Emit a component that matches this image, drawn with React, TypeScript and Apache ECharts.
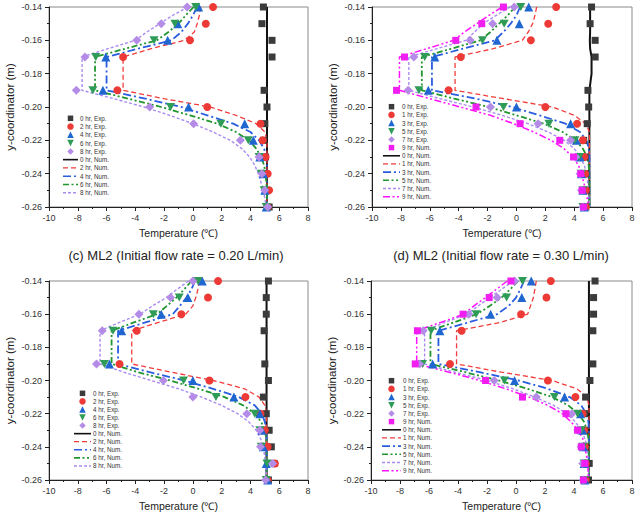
import React, { useEffect, useRef } from "react";
import * as echarts from "echarts";

// Depth levels of the measured points and of the simulated profiles (m)
const EXP_Y = [-0.14, -0.15, -0.16, -0.17, -0.19, -0.2, -0.21, -0.22, -0.23, -0.24, -0.25, -0.26];
const NUM_Y = [
  -0.14, -0.145, -0.15, -0.155, -0.16, -0.165, -0.17, -0.18, -0.19, -0.195, -0.2,
  -0.205, -0.21, -0.215, -0.22, -0.225, -0.23, -0.235, -0.24, -0.25, -0.26,
];

// Legend texts
const LABELS_A = [
  "0 hr, Exp.", "2 hr, Exp.", "4 hr, Exp.", "6 hr, Exp.", "8 hr, Exp.",
  "0 hr, Num.", "2 hr, Num.", "4 hr, Num.", "6 hr, Num.", "8 hr, Num.",
];
const LABELS_B = [
  "0 hr, Exp.", "1 hr, Exp.", "3 hr, Exp.", "5 hr, Exp.", "7 hr, Exp.", "9 hr, Num.",
  "0 hr, Num.", "1 hr, Num.", "3 hr, Num.", "5 hr, Num.", "7 hr, Num.", "9 hr, Num.",
];

// Panel (top-left): 0, 2, 4, 6, 8 hr — temperatures (°C) at EXP_Y
const A_EXP = [
  [4.9, 4.8, 5.5, 5.5, 4.95, 5.15, 5.0, 4.9, 5.05, 5.0, 5.1, 5.3],
  [1.4, 0.9, -0.2, -4.85, -5.25, 1.0, 4.7, 4.85, 5.05, 5.2, 5.3, 5.2],
  [0.4, -1.05, -1.75, -6.05, -6.25, -0.3, 3.6, 4.2, 4.65, 4.9, 5.0, 5.1],
  [0.2, -1.25, -2.7, -6.75, -6.95, -1.55, 1.95, 3.85, 4.6, 4.75, 4.95, 5.1],
  [-0.4, -2.2, -3.9, -7.5, -8.1, -3.0, 0.05, 3.3, 4.6, 4.8, 5.0, 5.2],
];
// simulated temperatures at NUM_Y
const A_NUM = [
  [5.15, 5.15, 5.15, 5.15, 5.15, 5.15, 5.15, 5.15, 5.15, 5.15, 5.15, 5.15, 5.15, 5.15, 5.15, 5.15, 5.15, 5.15, 5.15, 5.15, 5.15],
  [0.55, 0.45, 0.3, 0.1, -0.6, -2.9, -4.85, -4.85, -4.85, -2.0, 1.2, 3.0, 4.4, 5.0, 5.15, 5.15, 5.15, 5.15, 5.15, 5.15, 5.15],
  [0.3, 0.0, -0.35, -0.8, -1.5, -3.8, -6.0, -6.0, -6.0, -3.3, -0.8, 1.0, 2.8, 4.0, 4.6, 4.95, 5.1, 5.15, 5.15, 5.15, 5.15],
  [0.05, -0.5, -1.0, -1.7, -2.5, -4.7, -6.8, -6.8, -6.8, -4.5, -2.2, -0.2, 1.7, 3.0, 3.9, 4.4, 4.75, 4.95, 5.05, 5.15, 5.15],
  [-0.35, -1.4, -2.3, -3.2, -4.0, -5.9, -7.7, -7.7, -7.7, -5.5, -3.4, -1.6, 0.0, 1.4, 2.6, 3.4, 3.95, 4.3, 4.55, 4.9, 5.1],
];

// Panel (top-right): 0, 1, 3, 5, 7, 9 hr
const B_EXP = [
  [5.2, 5.1, 5.45, 5.45, 4.95, 5.0, 4.9, 4.65, 4.75, 4.8, 4.85, 4.8],
  [2.75, 2.2, 1.0, -3.85, -4.7, 2.0, 4.2, 4.6, 4.7, 4.75, 4.8, 4.8],
  [0.85, 0.2, -1.35, -5.65, -6.1, 0.0, 3.75, 4.15, 4.4, 4.5, 4.6, 4.7],
  [0.3, -0.85, -2.35, -6.35, -6.75, -0.9, 2.25, 4.05, 4.35, 4.5, 4.6, 4.6],
  [-0.15, -1.65, -3.2, -7.1, -7.5, -1.8, 1.5, 3.75, 4.1, 4.4, 4.5, 4.6],
  [-0.9, -2.4, -4.2, -7.75, -8.3, -2.8, 0.25, 3.0, 3.95, 4.45, 4.55, 4.65],
];
const B_NUM = [
  [5.1, 5.1, 5.1, 5.1, 5.08, 5.1, 5.2, 5.2, 5.05, 5.05, 5.05, 5.05, 5.05, 5.05, 5.05, 5.05, 5.05, 5.05, 5.05, 5.05, 5.05],
  [1.4, 1.28, 1.12, 0.82, 0.4, -1.6, -4.25, -4.25, -4.25, -0.9, 2.5, 4.0, 4.8, 5.05, 5.05, 5.05, 5.05, 5.05, 5.05, 5.05, 5.05],
  [0.25, 0.0, -0.4, -0.9, -1.5, -3.7, -5.85, -5.85, -5.85, -2.8, -0.3, 1.6, 3.4, 4.4, 4.85, 5.0, 5.05, 5.05, 5.05, 5.05, 5.05],
  [-0.1, -0.6, -1.2, -1.8, -2.5, -4.5, -6.55, -6.55, -6.55, -4.3, -1.9, 0.0, 1.9, 3.2, 4.1, 4.6, 4.9, 5.0, 5.05, 5.05, 5.05],
  [-0.45, -1.4, -2.3, -2.9, -3.5, -5.5, -7.45, -7.45, -7.45, -5.3, -3.0, -1.0, 0.8, 2.2, 3.3, 4.0, 4.4, 4.7, 4.85, 5.0, 5.05],
  [-1.0, -1.9, -2.75, -3.6, -4.35, -6.2, -8.1, -8.1, -8.1, -6.0, -3.9, -1.8, -0.2, 1.2, 2.4, 3.3, 3.9, 4.3, 4.5, 4.8, 5.0],
];

// Panel (bottom-left): 0, 2, 4, 6, 8 hr
const C_EXP = [
  [5.25, 5.1, 5.1, 4.95, 5.0, 5.25, 4.9, 5.1, 5.3, 5.45, 5.65, 5.25],
  [1.75, 1.05, -0.8, -3.9, -5.1, 1.15, 3.65, 4.7, 5.0, 5.2, 5.7, 5.2],
  [0.65, -0.35, -2.2, -4.95, -5.8, 0.0, 2.85, 4.65, 4.8, 4.9, 5.1, 5.2],
  [0.35, -0.95, -2.75, -5.55, -6.15, -0.65, 1.6, 4.3, 4.65, 4.75, 5.15, 5.1],
  [0.0, -1.55, -3.75, -6.3, -6.7, -2.05, 0.0, 3.75, 4.65, 4.7, 5.55, 5.05],
];
const C_NUM = [
  [5.12, 5.12, 5.12, 5.12, 5.12, 5.12, 5.12, 5.12, 5.12, 5.12, 5.12, 5.12, 5.12, 5.12, 5.12, 5.12, 5.12, 5.12, 5.12, 5.12, 5.12],
  [0.45, 0.35, 0.2, 0.0, -0.5, -2.4, -4.25, -4.25, -4.25, -1.5, 1.4, 3.6, 4.6, 5.0, 5.12, 5.12, 5.12, 5.12, 5.12, 5.12, 5.12],
  [0.15, -0.1, -0.45, -0.9, -1.4, -3.3, -5.2, -5.2, -5.2, -3.0, -0.6, 1.4, 3.2, 4.3, 4.8, 5.0, 5.1, 5.12, 5.12, 5.12, 5.12],
  [-0.1, -0.6, -1.15, -1.8, -2.5, -4.1, -5.65, -5.65, -5.65, -3.8, -1.6, 0.4, 2.2, 3.5, 4.3, 4.75, 5.0, 5.1, 5.12, 5.12, 5.12],
  [-0.3, -1.1, -1.85, -2.8, -3.7, -5.1, -6.45, -6.45, -6.45, -4.8, -2.9, -1.0, 0.6, 2.0, 3.1, 3.9, 4.4, 4.7, 4.9, 5.05, 5.12],
];

// Panel (bottom-right): 0, 1, 3, 5, 7, 9 hr
const D_EXP = [
  [5.45, 5.35, 5.35, 5.3, 5.3, 5.1, 4.8, 4.75, 4.75, 4.8, 5.05, 5.0],
  [2.4, 2.1, 0.35, -3.75, -4.55, 2.2, 4.1, 4.6, 4.7, 4.75, 4.8, 4.8],
  [1.05, 0.4, -1.75, -5.25, -5.75, -0.1, 3.35, 4.45, 4.6, 4.65, 4.7, 4.75],
  [0.45, -0.65, -2.75, -5.85, -6.45, -0.8, 2.65, 4.25, 4.5, 4.6, 4.7, 4.7],
  [-0.1, -1.3, -3.25, -6.4, -6.65, -1.5, 1.4, 3.85, 4.25, 4.5, 4.6, 4.65],
  [-0.35, -1.85, -3.65, -6.8, -6.95, -2.1, 0.45, 3.45, 4.25, 4.5, 4.75, 4.65],
];
const D_NUM = [
  [5.03, 5.03, 5.03, 5.03, 5.03, 5.03, 5.03, 5.03, 5.03, 5.03, 5.03, 5.03, 5.03, 5.03, 5.03, 5.03, 5.03, 5.03, 5.03, 5.03, 5.03],
  [1.4, 1.3, 1.2, 1.0, 0.8, -1.1, -4.1, -4.1, -4.1, -1.0, 2.5, 4.2, 4.9, 5.03, 5.03, 5.03, 5.03, 5.03, 5.03, 5.03, 5.03],
  [0.55, 0.3, 0.0, -0.5, -1.3, -3.3, -5.35, -5.35, -5.35, -2.5, 0.2, 2.2, 3.7, 4.5, 4.85, 5.0, 5.03, 5.03, 5.03, 5.03, 5.03],
  [0.15, -0.4, -1.0, -1.8, -2.7, -4.3, -5.9, -5.9, -5.9, -3.5, -1.2, 0.8, 2.5, 3.6, 4.3, 4.7, 4.9, 5.0, 5.03, 5.03, 5.03],
  [-0.2, -1.0, -1.8, -2.6, -3.4, -4.9, -6.3, -6.3, -6.3, -4.2, -2.0, -0.2, 1.3, 2.6, 3.5, 4.1, 4.5, 4.75, 4.9, 5.0, 5.03],
  [-0.6, -1.35, -2.1, -2.9, -3.6, -5.2, -6.85, -6.85, -6.85, -4.6, -2.5, -0.7, 0.9, 2.2, 3.2, 3.8, 4.3, 4.6, 4.75, 4.95, 5.0],
];

const X_TICKS = { min: -10, max: 8, interval: 2 };
const Y_TICKS = { min: -0.26, max: -0.14, interval: 0.02 };

const FONT = "'Liberation Sans', Arial, Helvetica, sans-serif";
const DOWN_TRIANGLE = "path://M0,0 L20,0 L10,17 Z";

const EXP_STYLES = [
  { symbol: "rect", kind: "rect", size: 7, color: "#3b3b3b" },
  { symbol: "circle", kind: "circle", size: 8, color: "#ee3a36" },
  { symbol: "triangle", kind: "up", size: 9, color: "#1f66d1" },
  { symbol: DOWN_TRIANGLE, kind: "down", size: [9, 8], color: "#2e9b57" },
  { symbol: "diamond", kind: "diamond", size: 9, color: "#b48be6" },
  { symbol: "rect", kind: "rect", size: 7, color: "#f01ef0" },
];
const NUM_STYLES = [
  { color: "#111111", type: "solid", width: 2 },
  { color: "#f23c3c", type: [5, 3], width: 1.3 },
  { color: "#2a5ce0", type: [8, 3, 2, 3], width: 1.8 },
  { color: "#21962f", type: [6, 2.5, 2, 2.5, 2, 2.5], width: 1.8 },
  { color: "#a98bf2", type: [3, 2], width: 1.4 },
  { color: "#ff10ff", type: [7, 2.5, 2, 2.5, 2, 2.5], width: 1.5 },
];

type Panel = {
  key: string;
  exp: number[][];
  num: number[][];
  labels: string[];
  grid: { left: number; top: number; width: number; height: number };
  // legend box: icon span x0..x1, first row centre y, row step
  legend: { x0: number; x1: number; y: number; step: number };
};

const PANELS: Panel[] = [
  { key: "a", exp: A_EXP, num: A_NUM, labels: LABELS_A,
    grid: { left: 49, top: 7, width: 259, height: 200 },
    legend: { x0: 63, x1: 78, y: 118.3, step: 8.27 } },
  { key: "b", exp: B_EXP, num: B_NUM, labels: LABELS_B,
    grid: { left: 372, top: 7, width: 260, height: 200 },
    legend: { x0: 383, x1: 400, y: 106.7, step: 8.18 } },
  { key: "c", exp: C_EXP, num: C_NUM, labels: LABELS_A,
    grid: { left: 49, top: 281, width: 259, height: 199 },
    legend: { x0: 74, x1: 91, y: 393.3, step: 8.07 } },
  { key: "d", exp: D_EXP, num: D_NUM, labels: LABELS_B,
    grid: { left: 371, top: 281, width: 261, height: 199 },
    legend: { x0: 382, x1: 401, y: 380.7, step: 8.18 } },
];

const CAPTIONS = [
  { text: "(c) ML2 (Initial flow rate = 0.20 L/min)", x: 176, y: 255 },
  { text: "(d) ML2 (Initial flow rate = 0.30 L/min)", x: 501, y: 255 },
];

function legendMarker(kind: string, cx: number, cy: number, s: number, fill: string) {
  const h = s / 2;
  const style = { fill };
  switch (kind) {
    case "circle":
      return { type: "circle", shape: { cx, cy, r: h }, style };
    case "up":
      return { type: "polygon", shape: { points: [[cx, cy - h], [cx + h, cy + h], [cx - h, cy + h]] }, style };
    case "down":
      return { type: "polygon", shape: { points: [[cx - h, cy - h], [cx + h, cy - h], [cx, cy + h]] }, style };
    case "diamond":
      return { type: "polygon", shape: { points: [[cx, cy - h], [cx + h, cy], [cx, cy + h], [cx - h, cy]] }, style };
    default:
      return { type: "rect", shape: { x: cx - h + 0.5, y: cy - h + 0.5, width: s - 1, height: s - 1 }, style };
  }
}

function buildLegend(p: Panel) {
  const L = p.legend;
  const nExp = p.exp.length;
  const cx = (L.x0 + L.x1) / 2;
  const items: any[] = [];
  p.labels.forEach((label, i) => {
    const cy = L.y + i * L.step;
    if (i < nExp) {
      const st = EXP_STYLES[i];
      items.push({ ...legendMarker(st.kind, cx, cy, 6.5, st.color), z: 20 });
    } else {
      const st = NUM_STYLES[i - nExp];
      items.push({
        type: "line",
        z: 20,
        shape: { x1: L.x0, y1: cy, x2: L.x1, y2: cy },
        style: {
          stroke: st.color,
          lineWidth: Math.min(st.width, 1.6),
          lineDash: Array.isArray(st.type) ? st.type : null,
        },
      });
    }
    items.push({
      type: "text",
      z: 20,
      x: L.x1 + 2,
      y: cy,
      style: {
        text: label,
        fontSize: 6.3,
        fontFamily: FONT,
        fill: "#333",
        textVerticalAlign: "middle",
        textAlign: "left",
      },
    });
  });
  return items;
}

function buildOption() {
  const grids: any[] = [];
  const xAxes: any[] = [];
  const yAxes: any[] = [];
  const series: any[] = [];
  const graphics: any[] = [];

  PANELS.forEach((p, gi) => {
    grids.push({
      ...p.grid,
      show: true,
      borderColor: "#8a8a8a",
      borderWidth: 1,
      backgroundColor: "transparent",
    });
    xAxes.push({
      gridIndex: gi,
      type: "value",
      ...X_TICKS,
      name: "Temperature (℃)",
      nameLocation: "middle",
      nameGap: 20,
      nameTextStyle: { fontSize: 10.5, color: "#222", fontFamily: FONT },
      axisLine: { show: true, onZero: false, lineStyle: { color: "#222", width: 1 } },
      axisTick: { show: true, inside: false, length: 4, lineStyle: { color: "#222" } },
      minorTick: { show: true, splitNumber: 2, length: 2, lineStyle: { color: "#222" } },
      axisLabel: { fontSize: 9, color: "#333", margin: 6, fontFamily: FONT },
      splitLine: { show: false },
    });
    yAxes.push({
      gridIndex: gi,
      type: "value",
      ...Y_TICKS,
      name: "y-coordinator (m)",
      nameLocation: "middle",
      nameGap: 33,
      nameTextStyle: { fontSize: 11.5, color: "#222", fontFamily: FONT },
      axisLine: { show: true, onZero: false, lineStyle: { color: "#222", width: 1 } },
      axisTick: { show: true, inside: false, length: 4, lineStyle: { color: "#222" } },
      minorTick: { show: true, splitNumber: 2, length: 2, lineStyle: { color: "#222" } },
      axisLabel: {
        fontSize: 9,
        color: "#333",
        margin: 7,
        fontFamily: FONT,
        formatter: (v: number) => v.toFixed(2),
      },
      splitLine: { show: false },
    });

    const nExp = p.exp.length;
    p.exp.forEach((vals, i) => {
      const st = EXP_STYLES[i];
      series.push({
        type: "scatter",
        name: `${p.key} ${p.labels[i]} (${i})`,
        xAxisIndex: gi,
        yAxisIndex: gi,
        symbol: st.symbol,
        symbolSize: st.size,
        itemStyle: { color: st.color, opacity: 1 },
        z: 3,
        data: vals.map((t, k) => [t, EXP_Y[k]]),
      });
    });
    p.num.forEach((vals, i) => {
      const st = NUM_STYLES[i];
      series.push({
        type: "line",
        name: `${p.key} ${p.labels[nExp + i]} (line)`,
        xAxisIndex: gi,
        yAxisIndex: gi,
        symbol: "none",
        showSymbol: false,
        smooth: false,
        lineStyle: { color: st.color, type: st.type, width: st.width },
        itemStyle: { color: st.color },
        z: 2,
        data: vals.map((t, k) => [t, NUM_Y[k]]),
      });
    });

    graphics.push(...buildLegend(p));
  });

  CAPTIONS.forEach((c) =>
    graphics.push({
      type: "text",
      x: c.x,
      y: c.y,
      style: {
        text: c.text,
        textAlign: "center",
        textVerticalAlign: "middle",
        fontSize: 13,
        fontFamily: FONT,
        fill: "#222",
      },
    })
  );

  return {
    animation: false,
    backgroundColor: "#ffffff",
    grid: grids,
    xAxis: xAxes,
    yAxis: yAxes,
    series,
    graphic: graphics,
  };
}

export default function App() {
  const ref = useRef<HTMLDivElement>(null);
  useEffect(() => {
    if (!ref.current) return;
    const chart = echarts.init(ref.current, null, { renderer: "svg" });
    chart.setOption(buildOption() as any);
    return () => chart.dispose();
  }, []);
  return (
    <div
      ref={ref}
      style={{ position: "fixed", left: 0, top: 0, width: 639, height: 522, background: "#fff" }}
    />
  );
}
